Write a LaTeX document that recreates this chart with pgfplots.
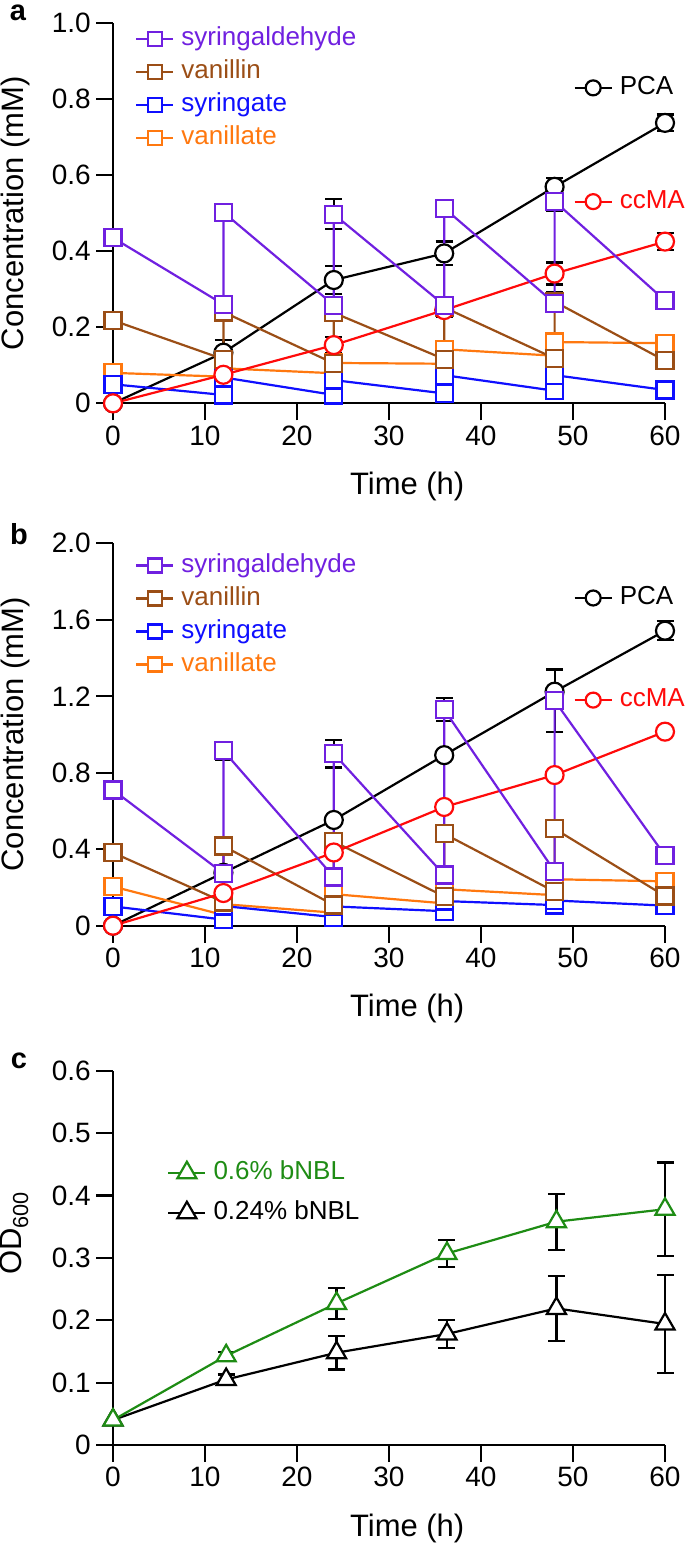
\documentclass[border=0pt]{standalone}
\usepackage{pgfplots}
\pgfplotsset{compat=1.18}
\usepackage{fontspec}
\setmainfont{Liberation Sans}
\definecolor{cpurple}{RGB}{112,32,224}
\definecolor{cbrown}{RGB}{155,78,22}
\definecolor{cblue}{RGB}{15,15,255}
\definecolor{corange}{RGB}{255,120,15}
\definecolor{cred}{RGB}{255,10,10}
\definecolor{cgreen}{RGB}{30,140,20}
\newcommand{\fticks}{\fontsize{28}{30}\selectfont}
\newcommand{\flab}{\fontsize{31}{34}\selectfont}
\newcommand{\fleg}{\fontsize{26}{28}\selectfont}

\pgfplotsset{
  prism/.style={
    scale only axis, width=552pt,
    xmin=0, xmax=60, xtick={0,10,...,60}, ymin=0,
    axis lines=left, axis line style={-, line width=2.2pt, black},
    tick align=outside, major tick length=17pt,
    every tick/.style={line width=2.2pt, black},
    clip=false,
    /pgf/number format/assume math mode=true,
    tick label style={font=\fticks, inner sep=5pt},
    label style={font=\flab},
    xlabel={Time (h)},
    xlabel style={at={(axis description cs:0.533,0)}, anchor=base, yshift=-91pt},
    ylabel style={at={(axis description cs:-0.1775,0.5)}, anchor=center},
    every axis plot/.append style={line width=2.2pt},
    legend image code/.code={\draw[mark repeat=2,mark phase=2,#1] plot coordinates {(0pt,0pt) (18.5pt,0pt) (37pt,0pt)};},
    legend style={draw=none, fill=none, inner sep=0pt, font=\fleg, row sep=8pt, column sep=7pt,
      nodes={inner sep=0pt, text height=19pt, text depth=6pt}},
    legend cell align=left,
  },
  hidden/.style={prism, hide axis},
  sq/.style={mark=square*, mark size=8.5pt, mark options={solid, fill=white, line width=2.2pt}},
  lsq/.style={mark=square*, mark size=7pt, mark options={solid, fill=white, line width=2.2pt}},
  ci/.style={mark=*, mark size=9pt, mark options={solid, fill=white, line width=2.2pt}},
  lci/.style={mark=*, mark size=7.5pt, mark options={solid, fill=white, line width=2.2pt}},
  tri/.style={mark=triangle*, mark size=11pt, mark options={solid, fill=white, line width=2.2pt}},
  errs/.style={only marks, mark=none, forget plot,
    error bars/.cd, y dir=both, y explicit,
    error bar style={line width=2.2pt, black},
    error mark options={rotate=90, mark size=8.5pt, line width=2.2pt, black}},
}

\begin{document}
\begin{tikzpicture}
\useasboundingbox (0,0) rectangle (685pt,-1551pt);

% ================= panel a =================
\begin{axis}[prism, at={(113pt,-403.3pt)}, anchor=south west, height=380.5pt,
  ymax=1.0, ytick={0,0.2,...,1.0}, yticklabels={0,0.2,0.4,0.6,0.8,1.0},
  ylabel={Concentration (mM)},
  legend style={at={(axis description cs:0.04,0.99)}, anchor=north west}]
\addlegendimage{lsq, cpurple}\addlegendentry{\textcolor{cpurple}{syringaldehyde}}
\addlegendimage{lsq, cbrown}\addlegendentry{\textcolor{cbrown}{vanillin}}
\addlegendimage{lsq, cblue}\addlegendentry{\textcolor{cblue}{syringate}}
\addlegendimage{lsq, corange}\addlegendentry{\textcolor{corange}{vanillate}}
% error bars (x y plus minus)
\addplot[errs] table[x=x, y=y, y error plus=ep, y error minus=em] {
x y ep em
12 0.133 0.033 0.074
24 0.324 0.037 0.037
36 0.394 0.031 0.031
48 0.569 0.023 0.023
60 0.737 0.022 0.022
24 0.153 0.022 0.022
36 0.245 0.018 0.018
48 0.341 0.029 0.029
60 0.425 0.022 0.022
24 0.497 0.039 0.039
48 0.531 0.026 0.026
12 0.245 0.000 0.025
48 0.267 0.026 0.000
};
% PCA
\addplot[ci, black, forget plot] table {
0 0
12 0.133
24 0.324
36 0.394
48 0.569
60 0.737
};
% vanillate
\addplot[sq, corange, forget plot] table {
0 0.080
12 0.070
12 0.092
24 0.079
24 0.106
36 0.104
36 0.142
48 0.125
48 0.161
60 0.158
};
% syringate
\addplot[sq, cblue, forget plot] table {
0 0.050
12 0.022
12 0.068
24 0.022
24 0.061
36 0.026
36 0.074
48 0.033
48 0.074
60 0.035
};
% vanillin
\addplot[sq, cbrown, forget plot] table {
0 0.218
12 0.116
12 0.240
24 0.105
24 0.238
36 0.116
36 0.252
48 0.118
48 0.267
60 0.112
};
% ccMA
\addplot[ci, cred, forget plot] table {
0 0
12 0.075
24 0.153
36 0.245
48 0.341
60 0.425
};
% syringaldehyde
\addplot[sq, cpurple, forget plot] table {
0 0.435
12 0.260
12 0.502
24 0.258
24 0.497
36 0.258
36 0.513
48 0.263
48 0.531
60 0.270
};
\end{axis}
\begin{axis}[hidden, at={(113pt,-403.3pt)}, anchor=south west, height=380.5pt, ymax=1.0,
  legend style={at={(axis description cs:0.834,0.829)}, anchor=west}]
\addlegendimage{lci, black}\addlegendentry{PCA}
\end{axis}
\begin{axis}[hidden, at={(113pt,-403.3pt)}, anchor=south west, height=380.5pt, ymax=1.0,
  legend style={at={(axis description cs:0.834,0.53)}, anchor=west}]
\addlegendimage{lci, cred}\addlegendentry{\textcolor{cred}{ccMA}}
\end{axis}

% ================= panel b =================
\begin{axis}[prism, at={(113pt,-925.7pt)}, anchor=south west, height=382.4pt,
  ymax=2.0, ytick={0,0.4,...,2.0}, yticklabels={0,0.4,0.8,1.2,1.6,2.0},
  ylabel={Concentration (mM)},
  legend style={at={(axis description cs:0.04,0.975)}, anchor=north west}]
\addlegendimage{lsq, cpurple}\addlegendentry{\textcolor{cpurple}{syringaldehyde}}
\addlegendimage{lsq, cbrown}\addlegendentry{\textcolor{cbrown}{vanillin}}
\addlegendimage{lsq, cblue}\addlegendentry{\textcolor{cblue}{syringate}}
\addlegendimage{lsq, corange}\addlegendentry{\textcolor{corange}{vanillate}}
\addplot[errs] table[x=x, y=y, y error plus=ep, y error minus=em] {
x y ep em
60 1.543 0.050 0.050
12 0.915 0.046 0.046
24 0.900 0.073 0.073
36 1.132 0.060 0.060
48 1.177 0.163 0.163
};
% PCA
\addplot[ci, black, forget plot] table {
0 0
12 0.277
24 0.553
36 0.892
48 1.224
60 1.543
};
% vanillate
\addplot[sq, corange, forget plot] table {
0 0.205
12 0.056
12 0.113
24 0.068
24 0.165
36 0.117
36 0.191
48 0.160
48 0.243
60 0.232
};
% syringate
\addplot[sq, cblue, forget plot] table {
0 0.101
12 0.032
12 0.103
24 0.045
24 0.101
36 0.076
36 0.129
48 0.108
48 0.132
60 0.105
};
% vanillin
\addplot[sq, cbrown, forget plot] table {
0 0.382
12 0.124
12 0.417
24 0.108
24 0.440
36 0.153
36 0.481
48 0.178
48 0.507
60 0.155
};
% ccMA
\addplot[ci, cred, forget plot] table {
0 0
12 0.171
24 0.383
36 0.621
48 0.788
60 1.015
};
% syringaldehyde
\addplot[sq, cpurple, forget plot] table {
0 0.710
12 0.274
12 0.915
24 0.255
24 0.900
36 0.265
36 1.130
48 0.285
48 1.177
60 0.367
};
\end{axis}
\begin{axis}[hidden, at={(113pt,-925.7pt)}, anchor=south west, height=382.4pt, ymax=2.0,
  legend style={at={(axis description cs:0.834,0.857)}, anchor=west}]
\addlegendimage{lci, black}\addlegendentry{PCA}
\end{axis}
\begin{axis}[hidden, at={(113pt,-925.7pt)}, anchor=south west, height=382.4pt, ymax=2.0,
  legend style={at={(axis description cs:0.834,0.59)}, anchor=west}]
\addlegendimage{lci, cred}\addlegendentry{\textcolor{cred}{ccMA}}
\end{axis}

% ================= panel c =================
\begin{axis}[prism, at={(113pt,-1445pt)}, anchor=south west, height=374.3pt,
  ymax=0.6, ytick={0,0.1,...,0.6}, yticklabels={0,0.1,0.2,0.3,0.4,0.5,0.6},
  ylabel={OD\textsubscript{600}},
  ylabel style={at={(axis description cs:-0.1793,0.566)}},
  legend style={at={(axis description cs:0.098,0.674)}, anchor=west, row sep=15pt}]
\addlegendimage{tri, cgreen}\addlegendentry{\textcolor{cgreen}{0.6\% bNBL}}
\addlegendimage{tri, black}\addlegendentry{0.24\% bNBL}
\addplot[errs] table[x=x, y=y, y error plus=ep, y error minus=em] {
x y ep em
12.3 0.143 0.006 0.006
24.3 0.227 0.025 0.025
36.3 0.307 0.022 0.022
48.2 0.358 0.045 0.045
60 0.378 0.075 0.075
12.3 0.105 0.008 0.008
24.3 0.148 0.027 0.027
36.3 0.178 0.022 0.022
48.2 0.219 0.052 0.052
60 0.194 0.078 0.078
};
\addplot[tri, black, forget plot] table {
0 0.040
12.3 0.105
24.3 0.148
36.3 0.178
48.2 0.219
60 0.194
};
\addplot[tri, cgreen, forget plot] table {
0 0.040
12.3 0.143
24.3 0.227
36.3 0.307
48.2 0.358
60 0.378
};
\end{axis}

\node[font=\bfseries\fontsize{29}{29}\selectfont] at (18pt,-13pt) {a};
\node[font=\bfseries\fontsize{29}{29}\selectfont] at (19pt,-534pt) {b};
\node[font=\bfseries\fontsize{29}{29}\selectfont] at (19pt,-1061pt) {c};
\end{tikzpicture}
\end{document}
